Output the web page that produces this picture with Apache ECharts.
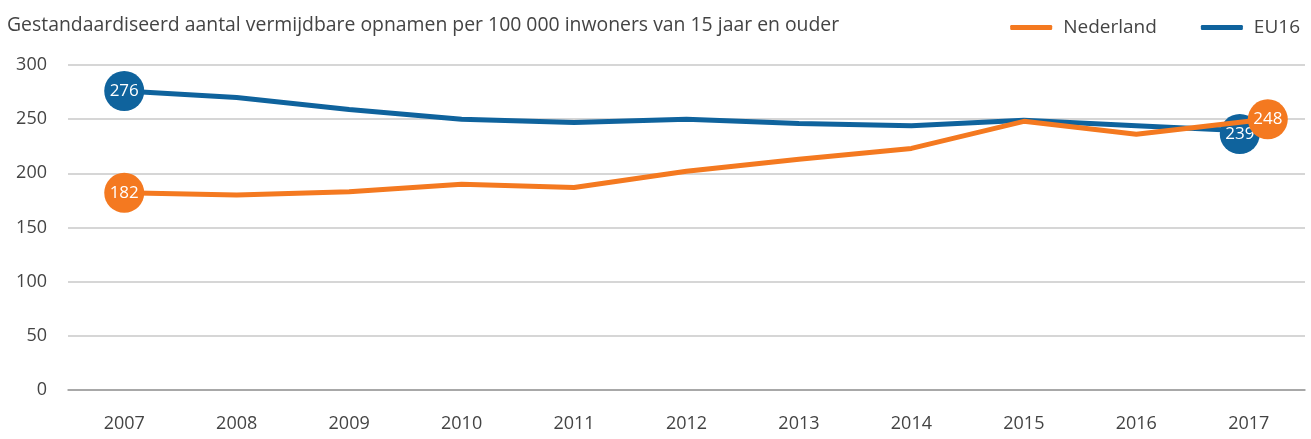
<!DOCTYPE html>
<html>
<head>
<meta charset="utf-8">
<script src="https://cdn.jsdelivr.net/npm/echarts@6/dist/echarts.min.js"></script>
<style>
html,body{margin:0;padding:0;background:#fff;}
#chart{width:1311px;height:439px;}
</style>
</head>
<body>
<div id="chart"></div>
<script>
// jaren en waarden
var jaren = ['2007','2008','2009','2010','2011','2012','2013','2014','2015','2016','2017'];
var nederland = [182,180,183,190,187,202,213,223,248,236,248];
var eu16 = [276,270,259,250,247,250,246,244,249,244,239];
var yTicks = [0,50,100,150,200,250,300];

var oranje = '#f47920';
var blauw = '#0f639d';

// alleen eerste en laatste punt krijgen een bol met label
function punten(vals, kleur, eindOffset){
	var n = vals.length;
	return vals.map(function(v, i){
		if(i === 0 || i === n - 1){
			return {
				value: v,
				symbol: 'circle',
				symbolSize: 40,
				symbolOffset: i === 0 ? [0, 0] : eindOffset,
				itemStyle: {color: kleur},
				label: {show: true, position: 'inside', color: '#fff', fontSize: 17, fontFamily: 'Open Sans'}
			};
		}
		return {value: v, symbol: 'none'};
	});
}

var myChart = echarts.init(document.getElementById('chart'));
var option = {
	animation: false,
	textStyle: {fontFamily: 'Open Sans'},
	title: {
		text: 'Gestandaardiseerd aantal vermijdbare opnamen per 100 000 inwoners van 15 jaar en ouder',
		left: 2,
		top: 11,
		textStyle: {fontSize: 19.4, fontWeight: 'normal', color: '#444', fontFamily: 'Open Sans'}
	},
	legend: {
		data: ['Nederland', 'EU16'],
		right: 6,
		top: 13,
		itemWidth: 42,
		itemHeight: 5,
		itemGap: 44,
		icon: 'roundRect',
		textStyle: {fontSize: 19, color: '#444', padding: [0, 0, 0, 6]}
	},
	grid: {left: 68, right: 6, top: 65, bottom: 49},
	xAxis: {
		type: 'category',
		data: jaren,
		boundaryGap: true,
		axisTick: {show: false},
		axisLine: {lineStyle: {color: '#999', width: 1.5}},
		axisLabel: {fontSize: 18, color: '#444', margin: 25}
	},
	yAxis: {
		type: 'value',
		min: yTicks[0],
		max: yTicks[yTicks.length - 1],
		interval: 50,
		axisLine: {show: false},
		axisTick: {show: false},
		axisLabel: {fontSize: 18, color: '#444', margin: 21},
		splitLine: {lineStyle: {color: '#c8c8c8', width: 1.5}}
	},
	series: [
		{
			name: 'EU16',
			type: 'line',
			data: punten(eu16, blauw, [-9, 3]),
			color: blauw,
			lineStyle: {width: 5, color: blauw},
			showAllSymbol: true,
			z: 2
		},
		{
			name: 'Nederland',
			type: 'line',
			data: punten(nederland, oranje, [19, -2]),
			color: oranje,
			lineStyle: {width: 5, color: oranje},
			showAllSymbol: true,
			z: 3
		}
	]
};
myChart.setOption(option);
</script>
</body>
</html>
